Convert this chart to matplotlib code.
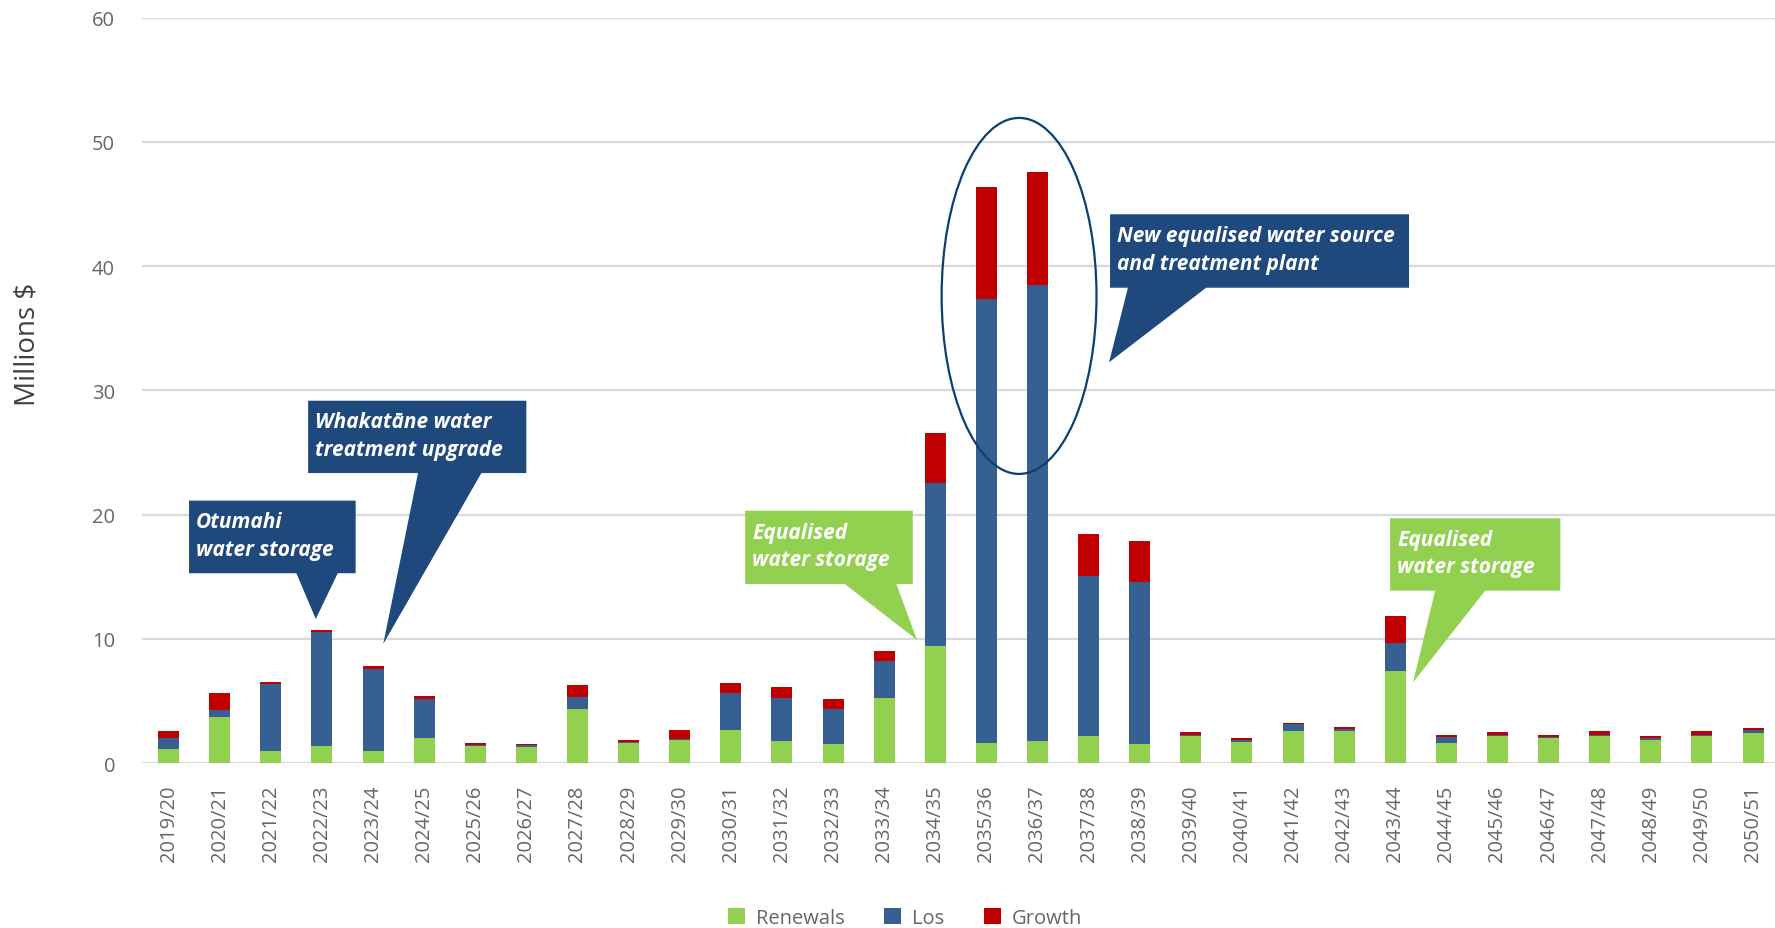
import matplotlib
matplotlib.use("Agg")
import matplotlib.pyplot as plt
from matplotlib.patches import Patch, Polygon, Ellipse

plt.rcParams["font.family"] = ["Open Sans", "DejaVu Sans"]

years = [
    "2019/20", "2020/21", "2021/22", "2022/23", "2023/24", "2024/25", "2025/26", "2026/27",
    "2027/28", "2028/29", "2029/30", "2030/31", "2031/32", "2032/33", "2033/34", "2034/35",
    "2035/36", "2036/37", "2037/38", "2038/39", "2039/40", "2040/41", "2041/42", "2042/43",
    "2043/44", "2044/45", "2045/46", "2046/47", "2047/48", "2048/49", "2049/50", "2050/51",
]
renewals = [1.15, 3.7, 0.95, 1.4, 0.95, 2.0, 1.4, 1.35, 4.35, 1.6, 1.85, 2.7, 1.8, 1.55, 5.25, 9.45,
            1.6, 1.8, 2.2, 1.55, 2.2, 1.75, 2.6, 2.6, 7.45, 1.65, 2.2, 2.0, 2.2, 1.9, 2.2, 2.4]
los = [0.85, 0.6, 5.45, 9.15, 6.65, 3.2, 0.1, 0.1, 1.0, 0.1, 0.1, 2.95, 3.45, 2.8, 2.95, 13.1,
       35.75, 36.7, 12.9, 13.05, 0.1, 0.1, 0.55, 0.15, 2.2, 0.5, 0.1, 0.15, 0.1, 0.1, 0.1, 0.3]
growth = [0.6, 1.35, 0.15, 0.2, 0.2, 0.25, 0.15, 0.1, 0.95, 0.15, 0.75, 0.85, 0.85, 0.8, 0.85, 4.05,
          9.0, 9.1, 3.35, 3.25, 0.25, 0.2, 0.1, 0.2, 2.2, 0.1, 0.25, 0.15, 0.3, 0.2, 0.3, 0.15]
y_ticks = [0, 10, 20, 30, 40, 50, 60]

C_REN = "#92D050"
C_LOS = "#366092"
C_GRO = "#C00000"
C_NAVY = "#1F497D"
C_TEXT = "#666666"

fig = plt.figure(figsize=(17.75, 9.29), dpi=100, facecolor="white")
ax = fig.add_axes([141.5 / 1775, 1 - 764.3 / 929, 1 - 141.5 / 1775, (764.3 - 18.5) / 929])

x = list(range(len(years)))
bottom2 = [r + l for r, l in zip(renewals, los)]
w = 0.41
ax.bar(x, renewals, width=w, color=C_REN, zorder=2)
ax.bar(x, los, width=w, bottom=renewals, color=C_LOS, zorder=2)
ax.bar(x, growth, width=w, bottom=bottom2, color=C_GRO, zorder=2)

ax.set_xlim(-0.53, 31.43)
ax.set_ylim(0, 60)
ax.set_yticks(y_ticks)
ax.yaxis.grid(True, color="#D9D9D9", linewidth=1.6, zorder=0)
ax.set_axisbelow(True)
for s in ax.spines.values():
    s.set_visible(False)
ax.set_xticks(x)
ax.set_xticklabels(years, rotation=90, fontsize=14.5, color=C_TEXT)
ax.tick_params(axis="x", length=0, pad=15)
ax.tick_params(axis="y", length=0, pad=19, labelsize=14.5, labelcolor=C_TEXT)

fig.text(28 / 1775, 1 - 344 / 929, "Millions $", rotation=90, ha="center", va="center",
         fontsize=20, color="#404040")


def callout(box, base, tip, text, color):
    x0, x1, y0, y1 = box
    pts = [(x0, y1), (x1, y1), (x1, y0), (base[1], y0), tip, (base[0], y0), (x0, y0)]
    ax.add_patch(Polygon(pts, closed=True, facecolor=color, edgecolor="none", zorder=4))
    ax.annotate(text, xy=(x0, (y0 + y1) / 2), xytext=(5, 1), textcoords="offset points",
                ha="left", va="center", color="white", fontsize=15, fontweight="bold",
                fontstyle="italic", zorder=5, linespacing=1.4)


callout((0.40, 3.66, 15.29, 21.13), (2.50, 3.31), (2.88, 11.61), "Otumahi\nwater storage", C_NAVY)
callout((2.73, 7.00, 23.35, 29.17), (4.88, 6.12), (4.20, 9.60), "Whakatāne water\ntreatment upgrade", C_NAVY)
callout((11.28, 14.56, 14.42, 20.32), (13.23, 14.24), (14.64, 9.94), "Equalised\nwater storage", C_REN)
callout((23.90, 27.23, 13.89, 19.71), (24.78, 25.76), (24.35, 6.52), "Equalised\nwater storage", C_REN)
callout((18.42, 24.27, 38.26, 44.17), (18.77, 20.30), (18.40, 32.26),
        "New equalised water source\nand treatment plant", C_NAVY)

ax.add_patch(Ellipse((16.64, 37.6), 3.03, 28.64, facecolor="none", edgecolor="#0D3F73",
                     linewidth=1.6, zorder=6))

handles = [Patch(facecolor=C_REN, label="Renewals"),
           Patch(facecolor=C_LOS, label="Los"),
           Patch(facecolor=C_GRO, label="Growth")]
leg = fig.legend(handles=handles, loc="center", bbox_to_anchor=(0.510, 0.011), ncol=3,
                 frameon=False, fontsize=14.5, handlelength=0.85, handleheight=0.85,
                 handletextpad=0.55, columnspacing=1.95)
for t in leg.get_texts():
    t.set_color(C_TEXT)

fig.savefig("out.png", dpi=100, facecolor="white")
